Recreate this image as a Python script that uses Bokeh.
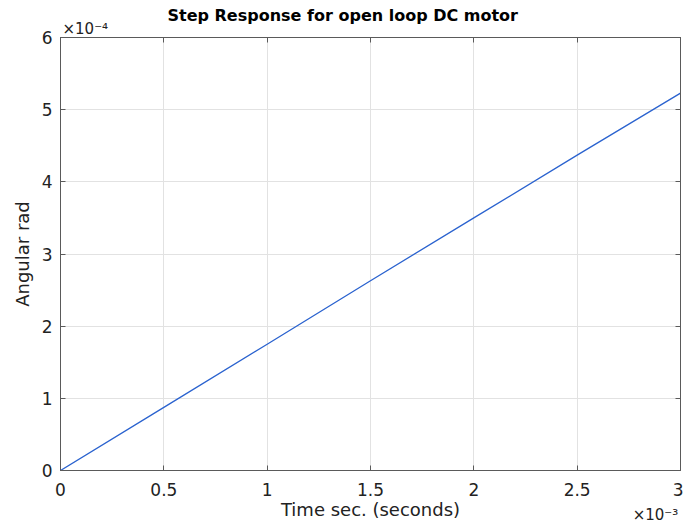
from bokeh.plotting import figure
from bokeh.models import Range1d, LinearAxis, FixedTicker, CustomJSTickFormatter, Title
from bokeh.embed import file_html
from bokeh.resources import INLINE

# Data (time in units of 1e-3 s, angle in units of 1e-4 rad)
time_ms = [0.0, 0.5, 1.0, 1.5, 2.0, 2.5, 3.0]
angle = [0.0, 0.875, 1.75, 2.63, 3.50, 4.37, 5.23]

x_ticks = [0, 0.5, 1, 1.5, 2, 2.5, 3]
y_ticks = [0, 1, 2, 3, 4, 5, 6]

title_text = "Step Response for open loop DC motor"
x_label = "Time sec. (seconds)"
y_label = "Angular rad"
y_exponent = "\u00d710\u207b\u2074"
x_exponent = "\u00d710\u207b\u00b3"

FONT = "DejaVu Sans"
AXC = "#5a5a5a"
TXC = "#222222"

p = figure(width=683, height=527, output_backend="svg", toolbar_location=None,
           x_range=Range1d(0, 3), y_range=Range1d(0, 6),
           min_border_left=60, min_border_right=3, min_border_top=37, min_border_bottom=57)
p.background_fill_color = "white"
p.border_fill_color = "white"
p.outline_line_color = AXC
p.outline_line_width = 1

fmt = CustomJSTickFormatter(code="return tick.toString()")
empty = CustomJSTickFormatter(code="return ''")

for ax, ticks in ((p.xaxis[0], x_ticks), (p.yaxis[0], y_ticks)):
    ax.ticker = FixedTicker(ticks=ticks)
    ax.formatter = fmt
    ax.major_tick_in = 5
    ax.major_tick_out = 0
    ax.minor_tick_line_color = None
    ax.axis_line_color = AXC
    ax.major_tick_line_color = AXC
    ax.major_label_text_font = FONT
    ax.major_label_text_font_size = "17px"
    ax.major_label_text_color = TXC
    ax.axis_label_text_font = FONT
    ax.axis_label_text_font_size = "18px"
    ax.axis_label_text_font_style = "normal"
    ax.axis_label_text_color = TXC

p.xaxis[0].axis_label = x_label
p.yaxis[0].axis_label = y_label
p.xaxis[0].major_label_standoff = 12
p.xaxis[0].axis_label_standoff = 0
p.yaxis[0].major_label_standoff = 8
p.yaxis[0].axis_label_standoff = 6

# Box ticks on top and right (no labels)
top = LinearAxis(ticker=FixedTicker(ticks=x_ticks), formatter=empty)
right = LinearAxis(ticker=FixedTicker(ticks=y_ticks), formatter=empty)
for ax in (top, right):
    ax.major_tick_in = 5
    ax.major_tick_out = 0
    ax.minor_tick_line_color = None
    ax.axis_line_color = AXC
    ax.major_tick_line_color = AXC
    ax.major_label_standoff = 0
p.add_layout(top, "above")
p.add_layout(right, "right")

# Exponent of the y axis (top-left) and main title
p.add_layout(Title(text=y_exponent, align="left", offset=2, standoff=0,
                   text_font=FONT, text_font_size="15px", text_font_style="normal",
                   text_color=TXC), "above")
p.add_layout(Title(text=title_text, align="left", offset=107, standoff=-14,
                   text_font=FONT, text_font_size="16px", text_font_style="bold",
                   text_color="#000000"), "above")

# Exponent of the x axis (bottom-right), drawn as the label of a bare axis
x_exp_pos = 2.879
exp_axis = LinearAxis(ticker=FixedTicker(ticks=[x_exp_pos]),
                      formatter=CustomJSTickFormatter(args=dict(t=x_exponent), code="return t"))
exp_axis.axis_line_color = None
exp_axis.major_tick_line_color = None
exp_axis.minor_tick_line_color = None
exp_axis.major_tick_in = 0
exp_axis.major_tick_out = 0
exp_axis.major_label_standoff = -17
exp_axis.major_label_text_font = FONT
exp_axis.major_label_text_font_size = "15px"
exp_axis.major_label_text_color = TXC
p.add_layout(exp_axis, "below")

p.xgrid.ticker = FixedTicker(ticks=x_ticks)
p.ygrid.ticker = FixedTicker(ticks=y_ticks)
p.grid.grid_line_color = "#e2e2e2"
p.grid.grid_line_width = 1

p.line(time_ms, angle, line_color="#2b63cf", line_width=1.3)

open("out.html", "w").write(file_html(p, INLINE))
